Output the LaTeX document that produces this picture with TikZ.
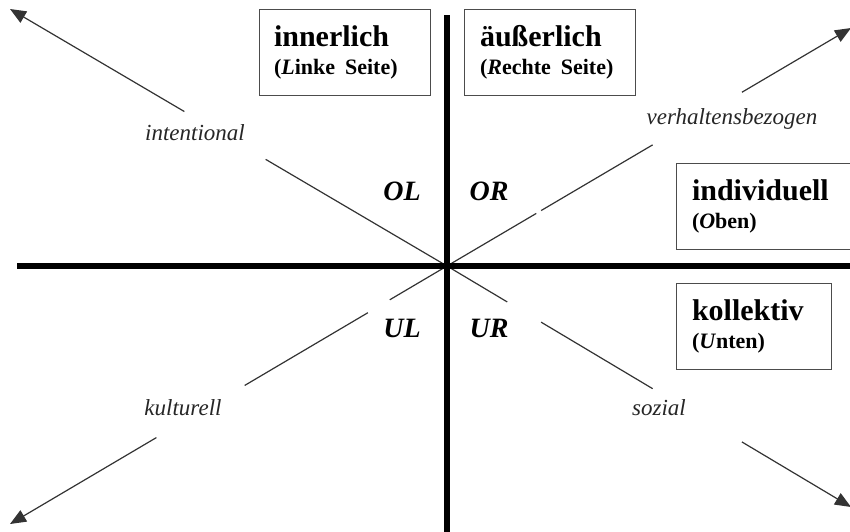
\documentclass[tikz,border=0pt]{standalone}
\usepackage{fontspec}
\setmainfont{Liberation Serif}
\usetikzlibrary{calc,arrows.meta}
\begin{document}
\begin{tikzpicture}[x=1pt,y=-1pt,
  axisline/.style={line width=6pt,black},
  diag/.style={line width=1.2pt,black!80},
  tipped/.style={diag,-{Triangle[length=16pt,width=13pt]}},
  qbox/.style={draw=black!70,line width=0.9pt,inner ysep=0pt,align=left,
    font=\bfseries\fontsize{30}{28}\selectfont},
  quad/.style={font=\bfseries\itshape\fontsize{28}{30}\selectfont,anchor=base,inner sep=0pt},
  dlabel/.style={font=\itshape\fontsize{23}{25}\selectfont,text=black!85,anchor=base,inner sep=0pt}
]
\useasboundingbox (0,0) rectangle (850,531);
\newcommand{\subln}[1]{{\fontsize{22}{28}\selectfont #1}}

% axes
\coordinate (C) at (447,266);
\coordinate (vt) at (447,15);
\coordinate (vb) at (447,540);
\coordinate (hl) at (17,266);
\coordinate (hr) at (860,266);

% diagonal tips
\coordinate (NWt) at (10,9);
\coordinate (NEt) at (851,28);
\coordinate (SWt) at (10,524);
\coordinate (SEt) at (851,507);

% segment ends
\coordinate (nw1) at ($(C)!0.415!(NWt)$);
\coordinate (nw2) at ($(C)!0.601!(NWt)$);
\coordinate (ne1) at ($(C)!0.221!(NEt)$);
\coordinate (ne2) at ($(C)!0.233!(NEt)$);
\coordinate (ne3) at ($(C)!0.509!(NEt)$);
\coordinate (ne4) at ($(C)!0.730!(NEt)$);
\coordinate (sw1) at ($(C)!0.131!(SWt)$);
\coordinate (sw2) at ($(C)!0.181!(SWt)$);
\coordinate (sw3) at ($(C)!0.463!(SWt)$);
\coordinate (sw4) at ($(C)!0.665!(SWt)$);
\coordinate (se1) at ($(C)!0.149!(SEt)$);
\coordinate (se2) at ($(C)!0.233!(SEt)$);
\coordinate (se3) at ($(C)!0.509!(SEt)$);
\coordinate (se4) at ($(C)!0.730!(SEt)$);

% diagonals
\draw[diag] (C) -- (nw1);
\draw[tipped] (nw2) -- (NWt);
\draw[diag] (C) -- (ne1);
\draw[diag] (ne2) -- (ne3);
\draw[tipped] (ne4) -- (NEt);
\draw[diag] (C) -- (sw1);
\draw[diag] (sw2) -- (sw3);
\draw[tipped] (sw4) -- (SWt);
\draw[diag] (C) -- (se1);
\draw[diag] (se2) -- (se3);
\draw[tipped] (se4) -- (SEt);

\draw[axisline] (vt) -- (vb);
\draw[axisline] (hl) -- (hr);

% boxes
\node[qbox,minimum width=171pt,minimum height=86pt,inner xsep=15pt,text width=141pt] (inner) at (344.5,52)
  {innerlich\\\subln{(\textit{L}inke Seite)}};
\node[qbox,minimum width=171pt,minimum height=86pt,inner xsep=16pt,text width=139pt] (outer) at (549.5,52)
  {äußerlich\\\subln{(\textit{R}echte Seite)}};
\node[qbox,minimum width=180pt,minimum height=86pt,inner xsep=16pt,text width=148pt] (indiv) at (766,206)
  {individuell\\\subln{(\textit{O}ben)}};
\node[qbox,minimum width=155pt,minimum height=86pt,inner xsep=16pt,text width=123pt] (koll) at (753.5,326)
  {kollektiv\\\subln{(\textit{U}nten)}};

% quadrant labels
\node[quad] (OL) at (402,200) {OL};
\node[quad] (OR) at (489,200) {OR};
\node[quad] (UL) at (402,337) {UL};
\node[quad] (UR) at (489,337) {UR};

% diagonal labels
\node[dlabel] (intl) at (195,140) {intentional};
\node[dlabel] (verh) at (732,124) {verhaltensbezogen};
\node[dlabel] (kult) at (183,415) {kulturell};
\node[dlabel] (soz) at (659,415) {sozial};
\end{tikzpicture}
\end{document}
